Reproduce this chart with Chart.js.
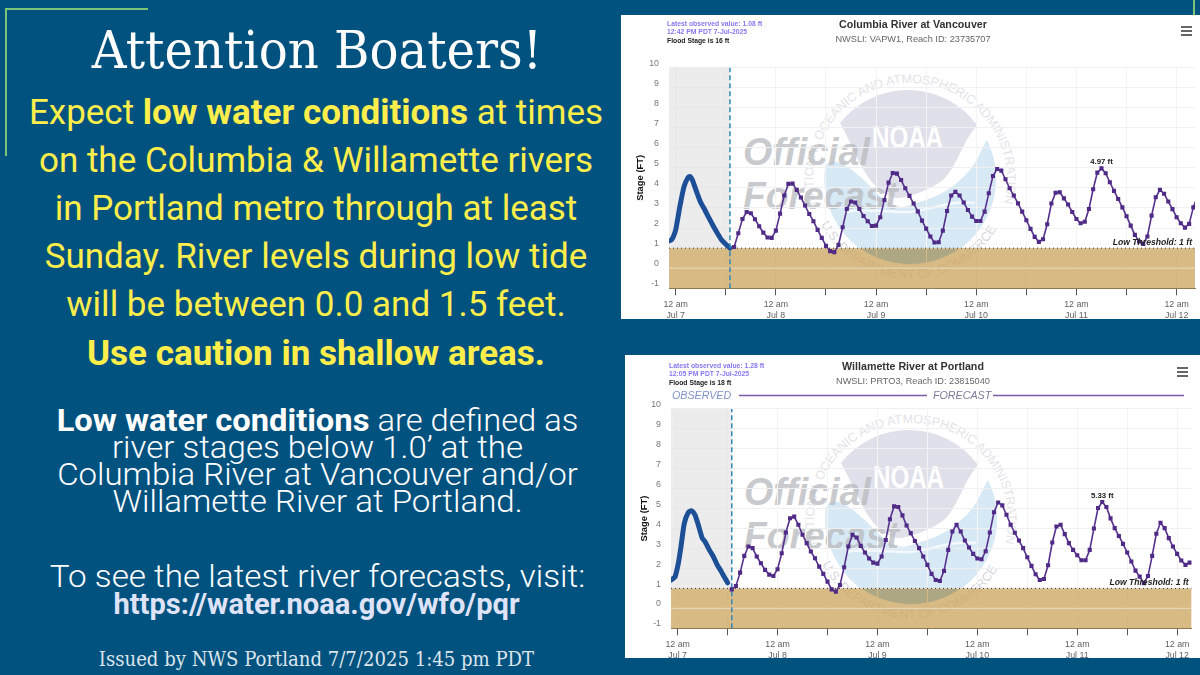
<!DOCTYPE html>
<html><head><meta charset="utf-8">
<script src="https://cdn.jsdelivr.net/npm/chart.js@4"></script>
<style>
html,body{margin:0;padding:0;width:1200px;height:675px;overflow:hidden;background:#02527f}
#wrap{position:relative;width:1200px;height:675px;background:#02527f;overflow:hidden}
.abs{position:absolute;white-space:nowrap}
.line{position:absolute;left:0;width:632px;text-align:center;white-space:nowrap}
.y{font:400 35px/40px Roboto;color:#fdee4b}
.y b{font-weight:700}
.w{font:300 30.5px/36px Roboto;color:#fff;transform-origin:317.5px 0}
.w b{font-weight:700}
.panel{position:absolute;background:#fff;overflow:hidden}
canvas{position:absolute;display:block}
.mini{position:absolute;font:700 6.8px "Liberation Sans";white-space:nowrap;color:#8578f0}
.burger{position:absolute;width:11px;height:2px;background:#666}
</style></head><body>
<div id="wrap">
<div class="abs" style="left:5px;top:8px;width:143px;height:1.5px;background:#7cc576"></div>
<div class="abs" style="left:5px;top:8px;width:1.5px;height:148px;background:#7cc576"></div>
<div class="abs" style="left:1193px;top:0;width:1.5px;height:15px;background:#7cc576"></div>
<div class="line" style="top:19px;font:400 52px/62px 'DejaVu Serif';font-stretch:condensed;color:#fff;width:634px;transform:scaleX(1.03);transform-origin:317px 0">Attention Boaters!</div>
<div class="line y" style="top:92.5px">Expect <b>low water conditions</b> at times</div>
<div class="line y" style="top:140.5px">on the Columbia &amp; Willamette rivers</div>
<div class="line y" style="top:188.5px">in Portland metro through at least</div>
<div class="line y" style="top:236.5px">Sunday. River levels during low tide</div>
<div class="line y" style="top:284.5px">will be between 0.0 and 1.5 feet.</div>
<div class="line y" style="top:333.5px"><b>Use caution in shallow areas.</b></div>
<div class="line w" style="top:403px;width:635px;transform:scaleX(1.072)"><b>Low water conditions</b> are defined as</div>
<div class="line w" style="top:430px;width:635px;transform:scaleX(1.084)">river stages below 1.0’ at the</div>
<div class="line w" style="top:457px;width:635px;transform:scaleX(1.082)">Columbia River at Vancouver and/or</div>
<div class="line w" style="top:484px;width:635px;transform:scaleX(1.084)">Willamette River at Portland.</div>
<div class="line w" style="top:559px;width:635px;transform:scaleX(1.09)">To see the latest river forecasts, visit:</div>
<div class="line" style="top:586px;width:633px;font:700 29.1px/36px Roboto;color:#dfe3f8">https://water.noaa.gov/wfo/pqr</div>
<div class="line" style="top:648px;width:633px;font:400 19.5px/24px 'DejaVu Serif';font-stretch:condensed;color:#dde5ec;transform:scaleX(1.03);transform-origin:316.5px 0">Issued by NWS Portland 7/7/2025 1:45 pm PDT</div>

<div class="panel" style="left:621px;top:15px;width:579px;height:304px"></div>
<div class="panel" style="left:625px;top:355px;width:575px;height:303px"></div>
<svg id="marks" class="abs" style="left:0;top:0" width="1200" height="675" xmlns="http://www.w3.org/2000/svg"></svg>
<div class="panel" id="p1" style="left:621px;top:15px;width:579px;height:304px;background:none"><canvas id="c1" width="584" height="304" style="left:0;top:0"></canvas>
  <div class="mini" style="left:46px;top:5px">Latest observed value: 1.08 ft</div>
  <div class="mini" style="left:46px;top:13px">12:42 PM PDT 7-Jul-2025</div>
  <div class="mini" style="left:46px;top:22px;color:#222">Flood Stage is 16 ft</div>
  <div class="burger" style="left:560px;top:11px"></div><div class="burger" style="left:560px;top:15px"></div><div class="burger" style="left:560px;top:19px"></div>
</div>
<div class="panel" id="p2" style="left:625px;top:355px;width:575px;height:303px;background:none"><canvas id="c2" width="576" height="303" style="left:0;top:0"></canvas>
  <div class="mini" style="left:44px;top:7px">Latest observed value: 1.28 ft</div>
  <div class="mini" style="left:44px;top:15px">12:05 PM PDT 7-Jul-2025</div>
  <div class="mini" style="left:44px;top:24px;color:#222">Flood Stage is 18 ft</div>
  <div class="burger" style="left:552px;top:12px"></div><div class="burger" style="left:552px;top:16px"></div><div class="burger" style="left:552px;top:20px"></div>
</div>
</div>
<script>
// Time base: hours after 12 am Jul 7
const dayLabels = ['Jul 7','Jul 8','Jul 9','Jul 10','Jul 11','Jul 12'];
const timeLabel = '12 am';

const columbiaObservedHours = [-1.6,-1,-0.5,0,1,2,3,3.5,4,5,6,7,8,9,10,11,12,13];
const columbiaObservedStage = [1.36,1.41,1.6,1.9,3.07,4.06,4.53,4.56,4.39,3.81,3.27,2.9,2.49,2.1,1.74,1.41,1.19,1.0];
const columbiaForecastStart = 14;
const columbiaForecastStage = [
1.06,1.74,2.45,2.80,2.74,2.44,2.09,1.77,1.53,1.51,
1.87,2.72,3.62,4.20,4.21,3.90,3.52,3.12,2.70,2.34,1.91,1.51,1.11,0.85,0.80,1.16,2.04,2.95,3.32,3.27,2.95,2.60,2.34,2.10,
2.12,2.54,3.40,4.26,4.74,4.71,4.39,3.98,3.60,3.22,2.83,2.37,1.97,1.58,1.28,1.29,1.87,2.85,3.62,3.80,3.62,3.27,2.90,2.57,
2.35,2.35,2.82,3.73,4.59,4.94,4.86,4.43,3.98,3.62,3.23,2.82,2.39,1.96,1.56,1.31,1.44,2.19,3.22,3.76,3.78,3.48,3.17,2.80,
2.45,2.24,2.31,2.95,3.93,4.76,4.97,4.73,4.28,3.85,3.45,3.03,2.59,2.12,1.66,1.33,1.21,1.58,2.62,3.53,3.90,3.71,3.32,2.94,
2.54,2.24,2.02,2.21,3.03,3.60];

const willametteObservedHours = [-1.6,-1,-0.6,0.16,0.8,1.6,2.56,3.35,4.15,4.95,5.9,6.55,7.6,8.55,9.5,10.5,12];
const willametteObservedStage = [1.42,1.51,1.59,2.26,3.1,4.27,4.81,4.89,4.69,4.19,3.52,3.35,2.93,2.6,2.18,1.84,1.28];
const willametteForecastStart = 13;
const willametteForecastStage = [
0.95,1.12,1.79,2.63,3.10,3.02,2.60,2.26,1.93,1.69,1.62,
1.96,2.76,3.80,4.52,4.60,4.19,3.69,3.27,2.85,2.51,2.09,1.73,1.34,0.95,0.84,1.17,2.06,3.10,3.69,3.55,3.13,2.80,2.50,2.29,
2.24,2.60,3.43,4.47,5.11,5.08,4.66,4.15,3.77,3.38,3.02,2.60,2.18,1.73,1.42,1.37,1.88,2.93,3.85,4.19,3.85,3.40,3.05,2.73,
2.50,2.46,2.86,3.80,4.82,5.31,5.16,4.69,4.19,3.79,3.40,3.02,2.56,2.13,1.71,1.42,1.47,2.16,3.30,4.10,4.19,3.72,3.27,2.93,
2.66,2.41,2.41,2.93,4.00,5.03,5.33,5.08,4.51,4.02,3.63,3.23,2.80,2.35,1.89,1.59,1.26,1.62,2.63,3.74,4.29,4.02,3.52,3.10,
2.73,2.40,2.18,2.29];

const lowThreshold = 1;
const nowHour = 13;

// --- watermark (real text, behind the transparent chart canvases)
function logo(tx, ty, id){
  return `<g transform="translate(${tx},${ty})" clip-path="url(#clip${id})">
  <path d="M840 123 A86 86 0 0 1 977 125 C962 142 958 165 943 180 C930 190 912 196 900 198 C892 199 880 192 872 182 C860 168 850 140 840 123Z" fill="#dfe0ea"/>
  <path d="M825 167 A86 86 0 1 0 987 140 C980 150 978 165 960 180 C945 195 925 201 903 207 C890 207 878 195 866 182 C855 172 845 163 834 161 C830 161 827 163 825 167Z" fill="#d8e9f6"/>
  <path d="M845 212 C870 208 890 213 910 212 C935 209 950 200 975 203" fill="none" stroke="#fff" stroke-width="2.5" opacity=".7"/>
  <clipPath id="low${id}"><rect x="800" y="248.3" width="220" height="30"/></clipPath>
  <circle cx="910" cy="178" r="86" fill="#3caaff" clip-path="url(#low${id})"/>
  <text x="872" y="148" font-family="Liberation Sans" font-weight="700" font-size="32" fill="#fff" textLength="71" lengthAdjust="spacingAndGlyphs">NOAA</text>
  <path id="arcT${id}" d="M816 204 A97 97 0 1 1 1004 204" fill="none"/>
  <text font-family="Liberation Sans" font-size="12.5" fill="#e3e3e8" textLength="352"><textPath href="#arcT${id}">NATIONAL OCEANIC AND ATMOSPHERIC ADMINISTRATION</textPath></text>
  <path id="arcB${id}" d="M821 224 A100 100 0 0 0 999 224" fill="none"/>
  <text font-family="Liberation Sans" font-size="12.5" fill="#d6d6dc" textLength="214"><textPath href="#arcB${id}">U.S. DEPARTMENT OF COMMERCE</textPath></text>
  <text x="743" y="165" font-family="Liberation Sans" font-weight="700" font-style="italic" font-size="39" fill="#b9bcc0" fill-opacity=".8" textLength="127" lengthAdjust="spacingAndGlyphs">Official</text>
  <text x="743" y="209" font-family="Liberation Sans" font-weight="700" font-style="italic" font-size="39" fill="#b9bcc0" fill-opacity=".8" textLength="155" lengthAdjust="spacingAndGlyphs">Forecast</text>
  </g>`;
}
document.getElementById('marks').innerHTML =
 `<defs><clipPath id="clipA"><rect x="669" y="15" width="526" height="273.5"/></clipPath><clipPath id="clipB"><rect x="669" y="15" width="526" height="273.5"/></clipPath></defs>`
 + logo(0,0,'A') + logo(1,340,'B');

// --- plugin for chart annotations
const notes = {
  id:'notes',
  afterDatasetsDraw(chart,args,o){
    const {ctx,scales:{x,y},chartArea:a}=chart;
    ctx.save();
    ctx.fillStyle='#222';ctx.font='700 7.8px "Liberation Sans"';ctx.textAlign='center';ctx.textBaseline='alphabetic';
    ctx.fillText(o.peakText,x.getPixelForValue(o.peakHour),y.getPixelForValue(o.peakValue)-4.5);
    ctx.font='italic 700 8.6px "Liberation Sans"';ctx.textAlign='right';ctx.fillStyle='#222';
    ctx.fillText(o.thresholdText,a.right-3,y.getPixelForValue(lowThreshold)-3);
    if(o.banner){
      const by=a.top-13.5;
      ctx.font='italic 400 10.7px "Liberation Sans"';ctx.textAlign='left';ctx.textBaseline='middle';
      ctx.fillStyle='#7f93c6';ctx.fillText('OBSERVED',a.left+1,by+1);
      ctx.fillStyle='#7f7a9c';ctx.fillText('FORECAST',308,by+1);
      ctx.strokeStyle='#7a5aa6';ctx.lineWidth=1.5;
      ctx.beginPath();ctx.moveTo(114,by);ctx.lineTo(302,by);ctx.moveTo(368,by);ctx.lineTo(559,by);ctx.stroke();
    }
    ctx.restore();
  }
};

function build(id,cfg){
  const xMin=-1.6,xMax=cfg.xMax;
  const span=[xMin,xMax];
  const obs=cfg.obsH.map((h,i)=>({x:h,y:cfg.obsV[i]}));
  const fc=cfg.fcV.map((v,i)=>({x:cfg.fcStart+i,y:v}));
  return new Chart(document.getElementById(id),{
    type:'line',
    data:{datasets:[
      {label:'Observed period',data:[{x:xMin,y:10},{x:nowHour,y:10}],borderWidth:0,pointRadius:0,fill:{value:lowThreshold},backgroundColor:'rgba(224,224,226,.62)',order:7},
      {label:'Low threshold band',data:span.map(h=>({x:h,y:lowThreshold})),borderColor:'#333',borderWidth:1,borderDash:[1,3],pointRadius:0,fill:'start',backgroundColor:'rgba(205,167,98,.78)',order:6},
      {label:'Zero',data:span.map(h=>({x:h,y:0})),borderColor:'rgba(255,255,255,.5)',borderWidth:1,pointRadius:0,fill:false,order:5},
      {label:'Now',data:[{x:nowHour,y:-1},{x:nowHour,y:10}],borderColor:'#2f88b9',borderWidth:1.5,borderDash:[5,3],pointRadius:0,fill:false,order:2},
      {label:'Observed',data:obs,borderColor:'#1d4f97',borderWidth:5,pointRadius:0,tension:0.2,fill:false,borderCapStyle:'round',borderJoinStyle:'round',order:3},
      {label:'Forecast',data:fc,borderColor:'#55308c',borderWidth:1.6,pointStyle:'rect',pointRadius:2.9,pointBackgroundColor:'#4f2a86',pointBorderWidth:0,fill:false,order:1}
    ]},
    options:{
      responsive:false,animation:false,devicePixelRatio:1,
      layout:{padding:{top:cfg.padTop,right:0,left:0,bottom:0}},
      plugins:{
        legend:{display:false},tooltip:{enabled:false},
        title:{display:true,text:cfg.title,color:'#333',font:{family:'Liberation Sans',size:10.7,weight:'700'},padding:{top:0,bottom:0}},
        subtitle:{display:true,text:cfg.sub,color:'#666',font:{family:'Liberation Sans',size:9.2,weight:'400'},padding:{top:2.5,bottom:cfg.subPad}},
        notes:{peakText:cfg.peakText,peakHour:cfg.peakHour,peakValue:cfg.peakValue,thresholdText:'Low Threshold: 1 ft',banner:cfg.banner}
      },
      scales:{
        x:{type:'linear',min:xMin,max:xMax,
          afterFit(s){s.height=cfg.xH;s.paddingRight=cfg.padRight;},
          border:{color:'#8d7a52',width:1},
          grid:{color:'#f4f4f4',tickColor:'#555',tickLength:7,lineWidth:1},
          ticks:{stepSize:12,includeBounds:false,autoSkip:false,maxRotation:0,minRotation:0,padding:3.5,color:'#5f5f5f',
            font:{family:'Liberation Sans',size:8.8,lineHeight:1.25},
            callback:v=>(v%24===0&&dayLabels[v/24])?[timeLabel,dayLabels[v/24]]:''}
        },
        y:{min:-1,max:10,
          afterFit(s){s.width=cfg.yW;},
          border:{display:false},
          grid:{color:'#f0f0f0',drawTicks:false,lineWidth:1},
          title:{display:true,text:'Stage (FT)',color:'#111',font:{family:'Liberation Sans',size:9.4,weight:'700'},padding:{top:14,bottom:0}},
          ticks:{stepSize:1,padding:10,labelOffset:-4.3,color:'#777',font:{family:'Liberation Sans',size:8.8},autoSkip:false}
        }
      }
    },
    plugins:[notes]
  });
}
build('c1',{title:'Columbia River at Vancouver',sub:'NWSLI: VAPW1, Reach ID: 23735707',obsH:columbiaObservedHours,obsV:columbiaObservedStage,fcStart:columbiaForecastStart,fcV:columbiaForecastStage,
  peakText:'4.97 ft',peakHour:102,peakValue:4.97,banner:false,padTop:4,padRight:10,subPad:22,xH:30.7,yW:48,xMax:124.4});
build('c2',{title:'Willamette River at Portland',sub:'NWSLI: PRTO3, Reach ID: 23815040',obsH:willametteObservedHours,obsV:willametteObservedStage,fcStart:willametteForecastStart,fcV:willametteForecastStage,
  peakText:'5.33 ft',peakHour:102,peakValue:5.33,banner:true,padTop:5.5,padRight:9.3,subPad:22,xH:29.7,yW:46,xMax:123.5});
</script>
</body></html>
